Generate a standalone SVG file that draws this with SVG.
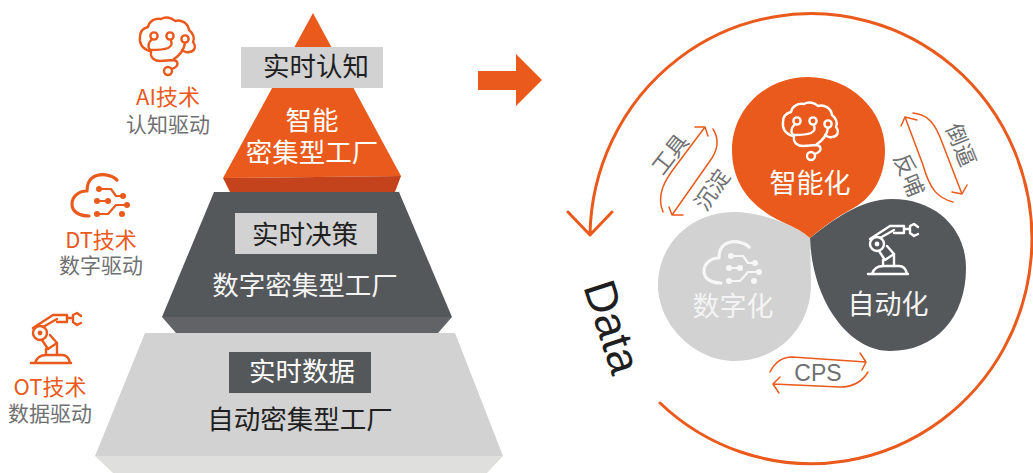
<svg xmlns="http://www.w3.org/2000/svg" width="1033" height="473" viewBox="0 0 1033 473">
<style>
text{font-family:"Noto Sans CJK SC","Liberation Sans",sans-serif;text-anchor:middle}
.lat{font-family:"Liberation Sans","Noto Sans CJK SC",sans-serif}
.t26{font-size:26.5px}.t21{font-size:21px}.t22{font-size:22px}.t28{font-size:27px}
.ora{fill:#e95a1c}.gr{fill:#6f7072}.dk{fill:#1f1f1f}.wh{fill:#fff}.lt{fill:#f4f4f4}
.ic{fill:none;stroke:currentColor;stroke-width:2.4;stroke-linecap:round;stroke-linejoin:round}
.th{stroke-width:3.2}
.dots{fill:currentColor;stroke:none}
.ln{fill:none;stroke:#e95a1c;stroke-width:1.5;stroke-linecap:round;stroke-linejoin:round}
.s{font-size:22px;fill:#6f7072}
</style>
<defs>
<g id="brain" class="ic">
<path d="M150 51C142 49 139 43 140 37C140 31 144 28 148 27C149 21 155 18 161 19C166 16 172 18 175 21C181 19 188 23 189 30C193 33 195 38 193 42C197 47 194 52 189 52C185 53 184 51 182 50"/>
<circle cx="154" cy="36" r="3.6"/><circle cx="170" cy="36" r="3.6"/><circle cx="185" cy="39" r="3.6"/><circle cx="168" cy="71" r="4"/>
<path d="M152 39C148 43 147 48 151 50C156 50 163 50 168 48C172 46 172 44 171 40"/>
<path d="M151 52C150 58 155 61 160 61L174 60C178 61 180 66 172 69"/>
<path d="M185 43C184 50 180 55 174 59"/>
</g>
<g id="cloud" class="ic th">
<path d="M117 180C112 175 100 172 92 178C88 181 87 186 87 191C78 191 72 197 72 204C72 211 78 216 89 216"/>
<path stroke-width="2.2" d="M99 189H111L116 196H123M98 201H110M97 214H108L116 205H127"/>
<g class="dots"><circle cx="99" cy="189" r="3"/><circle cx="123" cy="196" r="3"/><circle cx="97" cy="201" r="3"/><circle cx="108" cy="201" r="3"/><circle cx="97" cy="214" r="3"/><circle cx="127" cy="205" r="3"/><circle cx="122" cy="214" r="3"/></g>
</g>
<g id="robot" class="ic">
<path d="M31 363H71M35 363C37 357 42 355 46 355H62C66 355 69 358 70 363"/>
<path d="M46 349V355M57 343V355"/>
<path d="M42 340L48 349L57 343L50 335"/>
<path d="M33 328L53 315H67V322H57M43 327L57 319"/>
<circle cx="40" cy="333" r="7"/><circle cx="40" cy="333" r="1.2"/>
<path d="M67 318H73M81 316L77 313L73 315V322L77 325L81 323"/>
</g>
</defs>

<g id="pyramid-top">
<path fill="#e95a1c" d="M313 13L401 176L223 178Z"/>
<path fill="#c4431d" d="M223 178L401 176L395 192H230Z"/>
<rect x="241" y="47" width="142" height="41" fill="#d2d2d2"/>
<text class="t26 dk" x="316" y="76">实时认知</text>
<text class="t26 wh" x="312" y="130">智能</text>
<text class="t26 wh" x="312" y="162">密集型工厂</text>
</g>
<g id="pyramid-middle">
<path fill="#55585b" d="M214 192H399L452 317H162Z"/>
<path fill="#626366" d="M162 317H452L438 333H176Z"/>
<rect x="235" y="213" width="142" height="41" fill="#d2d2d2"/>
<text class="t26 dk" x="305" y="244">实时决策</text>
<text class="t26 lt" x="305" y="295">数字密集型工厂</text>
</g>
<g id="pyramid-bottom">
<path fill="#d2d2d2" d="M145 333H455L503 456H95Z"/>
<path fill="#dfdfde" d="M95 456H503L487 473H113Z"/>
<rect x="229" y="352" width="142" height="41" fill="#55585b"/>
<text class="t26 wh" x="302" y="381">实时数据</text>
<text class="t26 dk" x="300" y="429">自动密集型工厂</text>
</g>

<g id="tech-ai">
<use href="#brain" color="#e95a1c"/>
<text class="t22 ora" x="168" y="105">AI技术</text>
<text class="t21 gr" x="168" y="132">认知驱动</text>
</g>
<g id="tech-dt">
<use href="#cloud" color="#e95a1c"/>
<text class="t22 ora" x="101" y="248">DT技术</text>
<text class="t21 gr" x="101" y="273">数字驱动</text>
</g>
<g id="tech-ot">
<use href="#robot" color="#e95a1c"/>
<text class="t22 ora" x="50" y="395">OT技术</text>
<text class="t21 gr" x="50" y="421">数据驱动</text>
</g>

<g id="big-arrow"><path fill="#e95a1c" d="M478 71H516V54L542 80L516 106V90H478Z"/></g>

<g id="blob-digital">
<path fill="#d2d2d2" d="M810 238C795 225 760 212 735 212C690 212 658 245 658 285C658 325 695 361 735 361C780 361 811 325 811 285C811 268 810 250 810 238Z"/>
<use href="#cloud" color="#f7f7f7" transform="translate(632 67)"/>
<text class="t28 lt" x="733" y="316">数字化</text>
</g>
<g id="blob-auto">
<path fill="#55585b" d="M810 238C830 222 860 199 892 199C935 199 966 228 966 268C966 318 935 351 890 351C848 351 812 300 810 238Z"/>
<use href="#robot" color="#fff" transform="translate(837 -89)"/>
<text class="t28 lt" x="888" y="314">自动化</text>
</g>
<g id="blob-smart">
<path fill="#e95a1c" d="M810 238C795 225 778 222 765 212C745 198 732 178 732 150C732 110 765 77 808 77C850 77 885 110 885 150C885 180 870 200 850 210C835 218 822 228 810 238Z"/>
<use href="#brain" color="#fff" transform="translate(643 85)"/>
<text class="t28 wh" x="810" y="193">智能化</text>
</g>

<g id="connectors">
<path fill="none" stroke="#e95a1c" stroke-width="3" stroke-linecap="round" stroke-linejoin="round" d="M660 403A221 225 0 1 0 590 234M568 212L590 235L612 212"/>
<path class="ln" d="M705 127L675 167C665 180 656 195 663 212M695 127H705L708 136"/>
<path class="ln" d="M713 129C720 140 717 150 712 158L672 215M669 207L672 215H683"/>
<path class="ln" d="M905 117L923 165C930 190 938 198 953 202M901 126L905 117L917 120"/>
<path class="ln" d="M913 113C922 114 932 117 940 137L962 194M952 192L962 194L967 185"/>
<path class="ln" d="M770 372C775 362 782 357 792 357L866 362M860 353L866 362L862 370"/>
<path class="ln" d="M868 372C862 382 852 387 840 387L773 384M780 377L773 384L779 393"/>
</g>

<g id="labels">
<text class="lat" font-size="45" fill="#1f1f1f" transform="translate(612 327) rotate(72)" dy="15">Data</text>
<text class="s" transform="translate(670 154) rotate(-52)" dy="8">工具</text>
<text class="s" transform="translate(712 190) rotate(-55)" dy="8">沉淀</text>
<text class="s" transform="translate(909 175) rotate(68)" dy="8">反哺</text>
<text class="s" transform="translate(961 145) rotate(68)" dy="8">倒逼</text>
<text class="lat" font-size="23" x="818" y="381" fill="#6f7072">CPS</text>
</g>
</svg>
